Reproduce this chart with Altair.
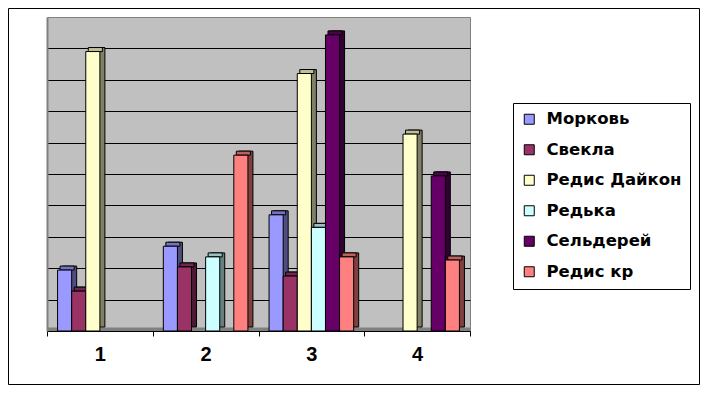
import altair as alt
import pandas as pd

groups = ["1", "2", "3", "4"]
series = ["Морковь", "Свекла", "Редис Дайкон", "Редька", "Сельдерей", "Редис кр"]
morkov = [1.94, 2.7, 3.7, 0]
svekla = [1.27, 2.04, 1.75, 0]
daikon = [8.9, 0, 8.2, 6.27]
redka = [0, 2.36, 3.3, 0]
selderey = [0, 0, 9.43, 4.94]
redis_kr = [0, 5.6, 2.36, 2.26]

front_colors = ["#9999FF", "#993366", "#FFFFCC", "#CCFFFF", "#660066", "#FF8080"]
side_colors = ["#4D4D80", "#4D1A33", "#808066", "#668080", "#330033", "#804040"]
top_colors = ["#7373BF", "#73264D", "#BFBF99", "#99BFBF", "#4D004D", "#BF6060"]

all_vals = [morkov, svekla, daikon, redka, selderey, redis_kr]
rows = []
for s, vals in zip(series, all_vals):
    for g, v in zip(groups, vals):
        rows.append({"group": g, "series": s, "value": v})
df = pd.DataFrame(rows)

W, H = 423, 314
TOTAL_W, TOTAL_H = 692, 377
PAD_L, PAD_T = 39, 9
STEP = W / 4
FONT = "Liberation Sans"

x_enc = alt.X(
    "group:N", sort=groups,
    scale=alt.Scale(paddingInner=0, paddingOuter=0),
    axis=alt.Axis(title=None, labelAngle=0, labelFont=FONT, labelFontSize=20,
                  labelFontWeight="bold", labelColor="black", domainColor="black",
                  tickColor="black", tickSize=5, tickBand="extent", labelPadding=8),
)
y_enc = alt.Y(
    "value:Q",
    scale=alt.Scale(domain=[0, 10], nice=False),
    axis=alt.Axis(title=None, labels=False, values=list(range(1, 10)), grid=True,
                  gridColor="black", gridOpacity=1, gridWidth=1, ticks=False,
                  domainColor="#808080", domainWidth=2),
)


def xoff(shift):
    return alt.XOffset(
        "series:N", sort=series,
        scale=alt.Scale(domain=series, range=[shift, STEP + shift],
                        paddingOuter=0.75, paddingInner=0),
    )


floor = alt.Chart(alt.Data(values=[{}])).mark_rect(fill="#808080").encode(
    x=alt.value(0), x2=alt.value(W), y=alt.value(H - 3.5), y2=alt.value(H)
)

base = alt.Chart(df).transform_filter("datum.value > 0")

side = base.mark_bar(stroke="black", strokeWidth=1, yOffset=-4, y2Offset=-4).encode(
    x=x_enc, y=y_enc, xOffset=xoff(5),
    color=alt.Color("series:N", sort=series,
                    scale=alt.Scale(domain=series, range=side_colors), legend=None),
)
top = base.mark_bar(stroke="black", strokeWidth=1, yOffset=-4, y2Offset=0).encode(
    x=x_enc, y=y_enc, y2=alt.Y2("value:Q"), xOffset=xoff(2.5),
    color=alt.Color("series:N", sort=series,
                    scale=alt.Scale(domain=series, range=top_colors), legend=None),
)
front = base.mark_bar(stroke="black", strokeWidth=1).encode(
    x=x_enc, y=y_enc, xOffset=xoff(0),
    color=alt.Color(
        "series:N", sort=series,
        scale=alt.Scale(domain=series, range=front_colors),
        legend=alt.Legend(
            title=None, orient="none", legendX=466, legendY=86,
            strokeColor="black", fillColor="white", padding=8,
            symbolType="square", symbolSize=100, symbolStrokeColor="black",
            symbolStrokeWidth=1, symbolOpacity=1,
            labelFont="DejaVu Sans", labelFontSize=16.5, labelFontWeight="bold",
            labelColor="black", rowPadding=13.5, labelOffset=9, labelLimit=300,
        ),
    ),
)

border = alt.Chart(alt.Data(values=[{}])).mark_rect(
    filled=False, stroke="black", strokeWidth=1
).encode(
    x=alt.value(-PAD_L + 0.5), x2=alt.value(TOTAL_W - PAD_L - 0.5),
    y=alt.value(-PAD_T + 0.5), y2=alt.value(TOTAL_H - PAD_T - 0.5),
)

chart = (
    alt.layer(floor, side, top, front, border)
    .resolve_scale(color="independent", xOffset="independent")
    .properties(
        width=W, height=H,
        autosize=alt.AutoSizeParams(type="none"),
        padding={"left": PAD_L, "top": PAD_T,
                 "right": TOTAL_W - PAD_L - W, "bottom": TOTAL_H - PAD_T - H},
        background="white",
    )
    .configure_view(fill="#C0C0C0", stroke="#808080", strokeWidth=1)
)

chart.save("out.html", embed_options={"renderer": "svg", "actions": False})
